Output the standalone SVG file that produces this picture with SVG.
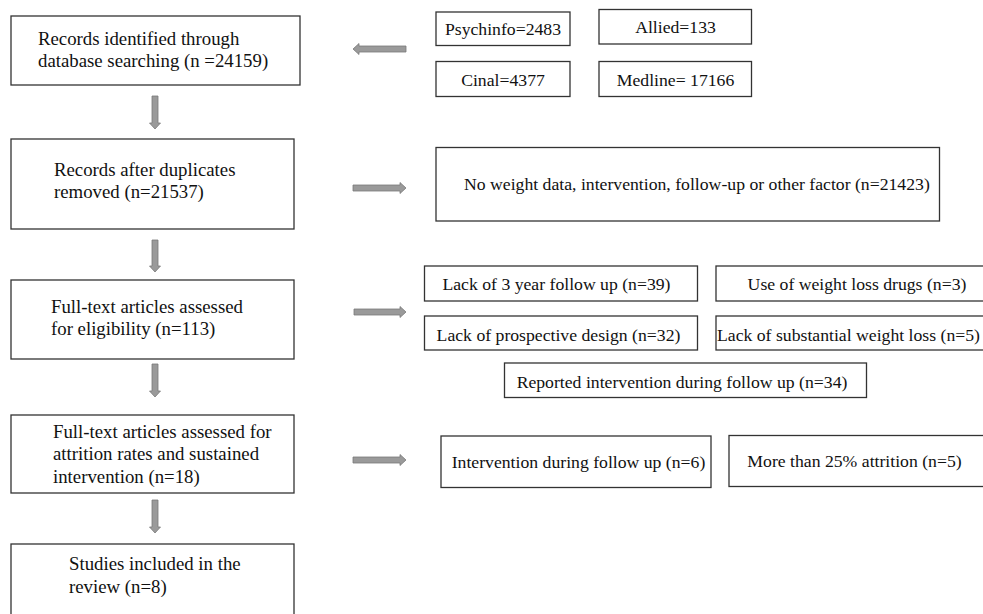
<svg xmlns="http://www.w3.org/2000/svg" width="983" height="614" viewBox="0 0 983 614">
<style>
.box{fill:#fff;stroke:#333;stroke-width:1.3}
.t{font-family:"Liberation Serif","Times New Roman",serif;font-size:18.8px;fill:#111}
.s{font-family:"Liberation Serif","Times New Roman",serif;font-size:17.7px;fill:#111}
.arr{fill:#9a9a9a;stroke:#7a7a7a;stroke-width:0.8}
</style>
<rect width="983" height="614" fill="#fff"/>
<g id="connectors">
<path class="arr" d="M152,96 H158 V123 H160.5 L155,129 L149.5,123 H152 Z"/>
<path class="arr" d="M152,240 H158 V266 H160.5 L155,272 L149.5,266 H152 Z"/>
<path class="arr" d="M152,364 H158 V391 H160.5 L155,397 L149.5,391 H152 Z"/>
<path class="arr" d="M152,500 H158 V527 H160.5 L155,533 L149.5,527 H152 Z"/>
<path class="arr" d="M406,46 V52 H359 V54.5 L353,49 L359,43.5 V46 Z"/>
<path class="arr" d="M353,185 V191 H400 V193.5 L406,188 L400,182.5 V185 Z"/>
<path class="arr" d="M354,309 V315 H400 V317.5 L406,312 L400,306.5 V309 Z"/>
<path class="arr" d="M353,457 V463 H400 V465.5 L406,460 L400,454.5 V457 Z"/>
</g>
<g id="n1"><rect class="box" x="11" y="16" width="289" height="69"/>
<text class="t" x="38" y="45">Records identified through</text>
<text class="t" x="38" y="67">database searching (n =24159)</text></g>
<g id="n2"><rect class="box" x="11" y="139" width="283" height="90"/>
<text class="t" x="54" y="176">Records after duplicates</text>
<text class="t" x="54" y="198">removed (n=21537)</text></g>
<g id="n3"><rect class="box" x="11" y="280" width="283" height="79"/>
<text class="t" x="51" y="313">Full-text articles assessed</text>
<text class="t" x="51" y="335">for eligibility (n=113)</text></g>
<g id="n4"><rect class="box" x="11" y="415" width="283" height="78"/>
<text class="t" x="53" y="438">Full-text articles assessed for</text>
<text class="t" x="53" y="460">attrition rates and sustained</text>
<text class="t" x="53" y="483">intervention (n=18)</text></g>
<g id="n5"><rect class="box" x="11" y="544" width="283" height="80"/>
<text class="t" x="69" y="570">Studies included in the</text>
<text class="t" x="69" y="593">review (n=8)</text></g>
<g id="psych"><rect class="box" x="436" y="12" width="134" height="33.5"/>
<text class="s" x="503" y="35" text-anchor="middle">Psychinfo=2483</text></g>
<g id="allied"><rect class="box" x="599" y="9.5" width="152.5" height="34.5"/>
<text class="s" x="675.5" y="32.5" text-anchor="middle">Allied=133</text></g>
<g id="cinal"><rect class="box" x="436" y="61.5" width="134" height="35"/>
<text class="s" x="503" y="86" text-anchor="middle">Cinal=4377</text></g>
<g id="medline"><rect class="box" x="599" y="61.5" width="152.5" height="35"/>
<text class="s" x="675.5" y="86" text-anchor="middle">Medline= 17166</text></g>
<g id="noweight"><rect class="box" x="436" y="147.5" width="503.5" height="73.5"/>
<text class="s" x="464" y="190">No weight data, intervention, follow-up or other factor (n=21423)</text></g>
<g id="lack3"><rect class="box" x="424.5" y="266" width="273" height="35"/>
<text class="s" x="556.5" y="289.5" text-anchor="middle">Lack of 3 year follow up (n=39)</text></g>
<g id="drugs"><rect class="box" x="716" y="266" width="270" height="35"/>
<text class="s" x="857" y="289.5" text-anchor="middle">Use of weight loss drugs (n=3)</text></g>
<g id="prosp"><rect class="box" x="424.5" y="316" width="273" height="34"/>
<text class="s" x="558.5" y="340.5" text-anchor="middle">Lack of prospective design (n=32)</text></g>
<g id="subst"><rect class="box" x="716" y="316" width="270" height="34"/>
<text class="s" x="717" y="340.5">Lack of substantial weight loss (n=5)</text></g>
<g id="reported"><rect class="box" x="504.5" y="363" width="362" height="34.5"/>
<text class="s" x="682" y="387.5" text-anchor="middle">Reported intervention during follow up (n=34)</text></g>
<g id="interv"><rect class="box" x="441" y="436" width="270" height="51.5"/>
<text class="s" x="578.5" y="467.5" text-anchor="middle">Intervention during follow up (n=6)</text></g>
<g id="attr"><rect class="box" x="729" y="435.5" width="260" height="51"/>
<text class="s" x="854.5" y="467" text-anchor="middle">More than 25% attrition (n=5)</text></g>
</svg>
